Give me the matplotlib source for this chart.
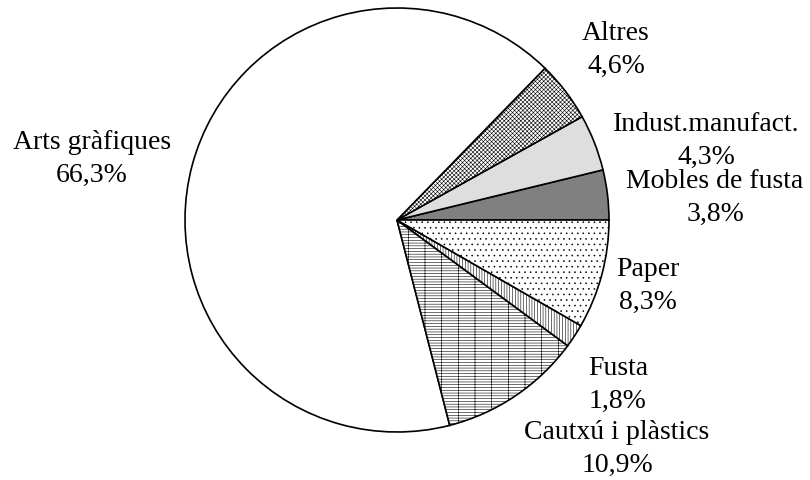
# Pie chart: sector shares (Catalan labels)
import matplotlib
matplotlib.use("Agg")
import matplotlib.pyplot as plt

# Data (counter-clockwise from 3 o'clock)
sectors = ["Mobles de fusta", "Indust.manufact.", "Altres", "Arts gràfiques",
           "Cautxú i plàstics", "Fusta", "Paper"]
shares = [3.8, 4.3, 4.6, 66.3, 10.9, 1.8, 8.3]
share_labels = ["3,8%", "4,3%", "4,6%", "66,3%", "10,9%", "1,8%", "8,3%"]

# Styles
fills = ["#808080", "#dedede", "white", "white", "white", "white", "white"]
hatches = [None, None, "xxxxxxxx", None, "------|", "||||||", "..."]
# label anchor points in pixel coords (x, y from top)
label_pos = [(715, 198), (706, 141), (616, 50), (92, 159),
             (617, 449), (618, 385), (648, 286)]

plt.rcParams["font.family"] = ["Liberation Serif", "DejaVu Serif"]
plt.rcParams["hatch.linewidth"] = 0.4

fig = plt.figure(figsize=(8.1, 4.8), dpi=100)
ax = fig.add_axes([0, 0, 1, 1])

wedges, _ = ax.pie(shares, startangle=0, counterclock=True,
                   center=(397, 260), radius=212, colors=fills,
                   wedgeprops=dict(edgecolor="black", linewidth=1.2))
for w, h in zip(wedges, hatches):
    if h:
        w.set_hatch(h)

ax.set_xlim(0, 810)
ax.set_ylim(0, 480)
ax.set_aspect("equal")
ax.axis("off")

for name, lab, (x, y) in zip(sectors, share_labels, label_pos):
    ax.text(x, 480 - y, name + "\n" + lab, ha="center", va="center",
            fontsize=20, linespacing=1.42)

fig.savefig("out.png", dpi=100)
